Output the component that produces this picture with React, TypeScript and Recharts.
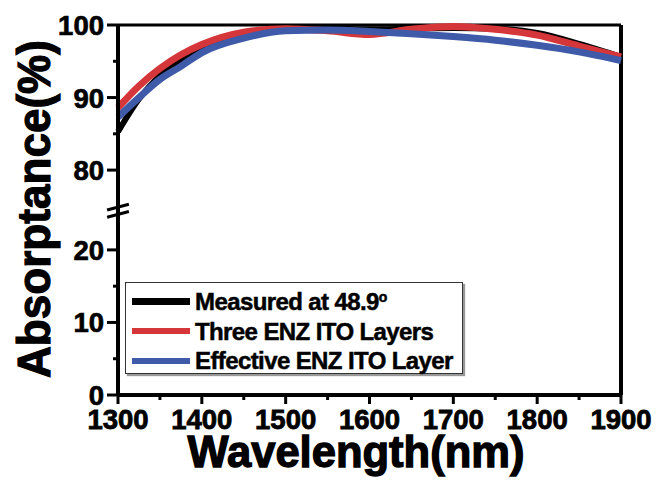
import { LineChart, Line, XAxis, YAxis, ReferenceLine, Legend, Label } from 'recharts';

// wavelength samples (nm) and absorptance (%)
const wavelength = [1300, 1325, 1350, 1375, 1400, 1450, 1500, 1550, 1600, 1650, 1700, 1750, 1800, 1850, 1900];
const measured = [85.3, 89.8, 93.0, 95.2, 96.9, 98.7, 99.5, 99.5, 99.4, 99.5, 99.6, 99.5, 98.9, 97.4, 95.6];
const threeLayers = [88.6, 91.6, 94.0, 95.9, 97.3, 99.0, 99.5, 99.2, 98.7, 99.4, 99.8, 99.4, 98.6, 97.1, 95.6];
const effectiveLayer = [87.3, 90.0, 92.5, 94.3, 96.2, 98.2, 99.2, 99.3, 99.1, 98.8, 98.4, 97.9, 97.2, 96.3, 95.1];

const xTicks = [1300, 1350, 1400, 1450, 1500, 1550, 1600, 1650, 1700, 1750, 1800, 1850, 1900];
const yTicks = [0, 5, 10, 15, 20, 80, 85, 90, 95, 100];

const FONT = '"Liberation Sans", Arial, sans-serif';
const RED = '#d5363a';
const BLUE = '#3e5aa8';

// broken y axis: values above the break are shifted down so 80 sits just above 30
const GAP = 49;
const toAxis = (v: number) => (v >= 50 ? v - GAP : v);
const fromAxis = (d: number) => (d > 27 ? d + GAP : d);

const chartData = wavelength.map((w, i) => ({
  w,
  measured: toAxis(measured[i]),
  three: toAxis(threeLayers[i]),
  effective: toAxis(effectiveLayer[i]),
}));

// digits in the figure are narrow and heavy
const digitWidth = 15.3;

const XTick = (props: any) => {
  const { x, y, payload } = props;
  const major = payload.value % 100 === 0;
  const s = String(payload.value);
  return (
    <g>
      <line x1={x} x2={x} y1={y} y2={y + (major ? 9 : 5)} stroke="#000" strokeWidth={3} />
      {major && (
        <text
          x={x}
          y={y + 34}
          textAnchor="middle"
          fontFamily={FONT}
          fontWeight="bold"
          fontSize={27}
          textLength={s.length * digitWidth}
          lengthAdjust="spacingAndGlyphs"
          stroke="#000"
          strokeWidth={0.8}
          fill="#000"
        >
          {s}
        </text>
      )}
    </g>
  );
};

const YTick = (props: any) => {
  const { x, y, payload } = props;
  const v = Math.round(fromAxis(payload.value));
  const major = v % 10 === 0;
  const s = String(v);
  return (
    <g>
      <line x1={x - (major ? 11 : 5)} x2={x} y1={y} y2={y} stroke="#000" strokeWidth={3} />
      {major && (
        <text
          x={x - 14}
          y={y}
          dy={10}
          textAnchor="end"
          fontFamily={FONT}
          fontWeight="bold"
          fontSize={28}
          textLength={s.length * digitWidth}
          lengthAdjust="spacingAndGlyphs"
          stroke="#000"
          strokeWidth={0.7}
          fill="#000"
        >
          {s}
        </text>
      )}
    </g>
  );
};

const legendItems = [
  { name: 'Measured at 48.9', color: '#000', deg: true, h: 7 },
  { name: 'Three ENZ ITO Layers', color: RED, deg: false, h: 6 },
  { name: 'Effective ENZ ITO Layer', color: BLUE, deg: false, h: 6 },
];

const LegendBox = () => (
  <div
    style={{
      width: 338,
      height: 92,
      boxSizing: 'border-box',
      border: '1.5px solid #333',
      boxShadow: '2px 2px 1px #999',
      background: '#fff',
      paddingTop: 4,
      fontFamily: FONT,
      fontWeight: 'bold',
      fontSize: 24,
      letterSpacing: -0.6,
      color: '#000',
      WebkitTextStroke: '0.5px #000',
    }}
  >
    {legendItems.map((it) => (
      <div key={it.name} style={{ display: 'flex', alignItems: 'center', height: 29.5, paddingLeft: 6 }}>
        <div style={{ width: 58, height: it.h, background: it.color, marginRight: 5 }} />
        <span style={{ lineHeight: '29.5px', whiteSpace: 'nowrap' }}>
          {it.name}
          {it.deg && <sup style={{ fontSize: 14, verticalAlign: 'top', lineHeight: '20px' }}>o</sup>}
        </span>
      </div>
    ))}
  </div>
);

const XLabel = () => (
  <text
    x={356}
    y={467}
    textAnchor="middle"
    fontFamily={FONT}
    fontWeight="bold"
    fontSize={44}
    textLength={337}
    lengthAdjust="spacingAndGlyphs"
    stroke="#000"
    strokeWidth={1.3}
    fill="#000"
  >
    Wavelength(nm)
  </text>
);

const YLabel = () => (
  <text
    x={50}
    y={209}
    transform="rotate(-90, 50, 209)"
    textAnchor="middle"
    fontFamily={FONT}
    fontWeight="bold"
    fontSize={46}
    textLength={338}
    lengthAdjust="spacingAndGlyphs"
    stroke="#000"
    strokeWidth={1.2}
    fill="#000"
  >
    Absorptance(%)
  </text>
);

export default function App() {
  return (
    <div style={{ position: 'absolute', left: 0, top: 0, width: 657, height: 483, background: '#fff' }}>
      <LineChart width={657} height={483} data={chartData} margin={{ top: 25, right: 36, left: 0, bottom: 0 }}>
        <XAxis
          dataKey="w"
          type="number"
          domain={[1300, 1900]}
          ticks={xTicks}
          interval={0}
          height={88}
          tickSize={0}
          tickMargin={0}
          tickLine={false}
          axisLine={{ stroke: '#000', strokeWidth: 4 }}
          tick={<XTick />}
        >
          <Label content={<XLabel />} />
        </XAxis>
        <YAxis
          type="number"
          domain={[0, 51]}
          ticks={yTicks.map(toAxis)}
          interval={0}
          width={118}
          tickSize={0}
          tickMargin={0}
          tickLine={false}
          axisLine={{ stroke: '#000', strokeWidth: 4 }}
          tick={<YTick />}
        >
          <Label content={<YLabel />} />
        </YAxis>
        <ReferenceLine y={51} stroke="#000" strokeWidth={3} />
        <ReferenceLine x={1900} stroke="#000" strokeWidth={4} />
        <ReferenceLine
          segment={[{ x: 1287, y: 25.5 }, { x: 1313, y: 26.3 }]}
          stroke="#000"
          strokeWidth={3}
          ifOverflow="visible"
        />
        <ReferenceLine
          segment={[{ x: 1287, y: 24.5 }, { x: 1313, y: 25.3 }]}
          stroke="#000"
          strokeWidth={3}
          ifOverflow="visible"
        />
        <Line dataKey="measured" type="monotone" stroke="#000" strokeWidth={6} dot={false} activeDot={false} isAnimationActive={false} />
        <Line dataKey="three" type="monotone" stroke={RED} strokeWidth={7} dot={false} activeDot={false} isAnimationActive={false} />
        <Line dataKey="effective" type="monotone" stroke={BLUE} strokeWidth={7} dot={false} activeDot={false} isAnimationActive={false} />
        <Legend
          layout="vertical"
          align="center"
          verticalAlign="middle"
          content={() => <LegendBox />}
          wrapperStyle={{ position: 'absolute', left: 125, top: 282, width: 338, height: 92 }}
        />
      </LineChart>
    </div>
  );
}
